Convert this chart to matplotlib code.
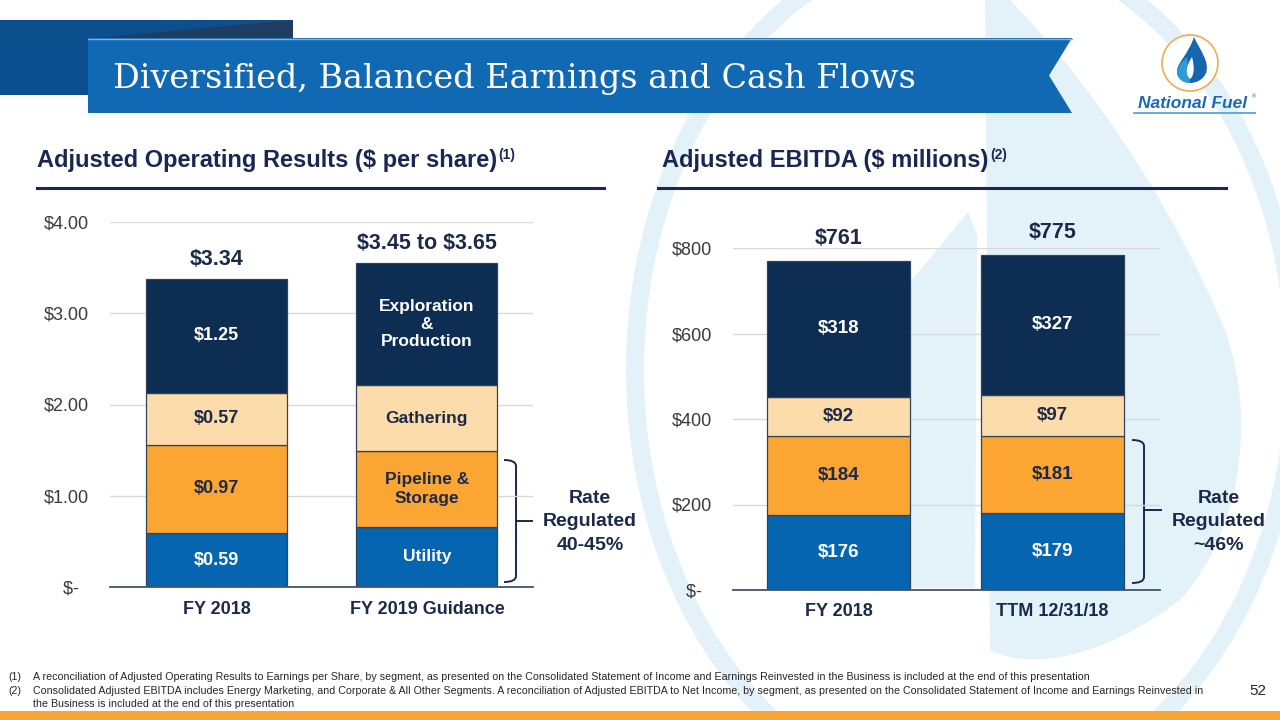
import matplotlib.pyplot as plt
import matplotlib.patches as mpatches
from matplotlib.path import Path

plt.rcParams['font.family'] = ['Liberation Sans', 'DejaVu Sans']
plt.rcParams['text.parse_math'] = False

# ---- data: adjusted operating results ($ per share)
eps_categories = ["FY 2018", "FY 2019 Guidance"]
eps_utility = [0.59, 0.66]
eps_pipeline = [0.97, 0.83]
eps_gathering = [0.57, 0.72]
eps_ep = [1.25, 1.34]
eps_totals = ["$3.34", "$3.45 to $3.65"]
eps_ticks = [0, 1, 2, 3, 4]
eps_ticklabels = ["$-  ", "$1.00", "$2.00", "$3.00", "$4.00"]
eps_fy18_labels = ["$0.59", "$0.97", "$0.57", "$1.25"]
eps_guid_labels = ["Utility", "Pipeline &\nStorage", "Gathering", "Exploration\n&\nProduction"]

# ---- data: adjusted EBITDA ($ millions)
ebitda_categories = ["FY 2018", "TTM 12/31/18"]
ebitda_utility = [176, 179]
ebitda_pipeline = [184, 181]
ebitda_gathering = [92, 97]
ebitda_ep = [318, 327]
ebitda_totals = ["$761", "$775"]
ebitda_ticks = [0, 200, 400, 600, 800]
ebitda_ticklabels = ["$-  ", "$200", "$400", "$600", "$800"]

# colours
C_EP = "#0e2d52"
C_GATH = "#fddcab"
C_PIPE = "#fba532"
C_UTIL = "#0565b0"
NAVY = "#1a2754"
DARK = "#1c2a4a"
WATER = "#e3f1f9"

fig = plt.figure(figsize=(12.8, 7.2), dpi=100)
fig.patch.set_facecolor("white")

# background layer in pixel coordinates
bg = fig.add_axes([0, 0, 1, 1])
bg.set_xlim(0, 1280)
bg.set_ylim(720, 0)
bg.axis("off")

# watermark: ring + drop
bg.add_patch(mpatches.Ellipse((965, 370), 660, 860, fill=False, ec=WATER, lw=13, zorder=0))
body = Path([(985, -10), (1000, -10),
             (1090, 80), (1170, 200), (1225, 330),
             (1260, 430), (1235, 540), (1180, 600),
             (1100, 660), (1030, 670), (990, 650),
             (985, -10)],
            [Path.MOVETO, Path.LINETO,
             Path.CURVE4, Path.CURVE4, Path.CURVE4,
             Path.CURVE4, Path.CURVE4, Path.CURVE4,
             Path.CURVE4, Path.CURVE4, Path.CURVE4,
             Path.LINETO])
bg.add_patch(mpatches.PathPatch(body, fc=WATER, ec="none", zorder=0))
bg.add_patch(mpatches.Polygon([(968, 212), (977, 235), (975, 588), (850, 588), (850, 355)],
                              closed=True, fc=WATER, ec="none", zorder=0))

# title banner
bg.add_patch(mpatches.Rectangle((0, 20), 293, 75, fc="#0c4f8e", ec="none", zorder=2))
bg.add_patch(mpatches.Polygon([(95, 38), (293, 20), (293, 38)], closed=True,
                              fc="#1f3d63", ec="none", zorder=2))
bg.add_patch(mpatches.Polygon([(88, 38), (1072, 38), (1049, 75.5), (1072, 113), (88, 113)],
                              closed=True, fc="#1169b3", ec="none", zorder=3))
bg.plot([88, 1072], [38.5, 38.5], color="#7fb2e0", lw=1, zorder=4)
bg.text(113, 88, "Diversified, Balanced Earnings and Cash Flows", family="DejaVu Serif",
        fontsize=24, color="white", va="baseline", ha="left", zorder=5)

# logo
bg.add_patch(mpatches.Circle((1190, 63), 28, fc="white", ec="#f2aa55", lw=1.2, zorder=3))
drop = Path([(1194, 37), (1200, 50), (1210, 62), (1206, 73),
             (1203, 80), (1196, 83), (1190, 83),
             (1183, 83), (1177, 78), (1177, 71),
             (1177, 63), (1188, 55), (1194, 37)],
            [Path.MOVETO] + [Path.CURVE4] * 12)
bg.add_patch(mpatches.PathPatch(drop, fc="#1565b0", ec="none", zorder=4))
bulge = Path([(1187, 57), (1180, 63), (1177, 68), (1177, 73),
              (1178, 80), (1184, 83), (1190, 83), (1190, 57)],
             [Path.MOVETO, Path.CURVE4, Path.CURVE4, Path.CURVE4,
              Path.CURVE4, Path.CURVE4, Path.CURVE4, Path.CLOSEPOLY])
bg.add_patch(mpatches.PathPatch(bulge, fc="#2e9ad6", ec="none", zorder=5))
flame = Path([(1192, 57), (1186, 66), (1185, 74), (1190, 79),
              (1194, 76), (1195, 68), (1192, 57)],
             [Path.MOVETO] + [Path.CURVE4] * 6)
bg.add_patch(mpatches.PathPatch(flame, fc="white", ec="none", zorder=6))
bg.text(1193, 103, "National Fuel", fontsize=12.5, fontweight="bold", style="italic",
        color="#1d6ab4", ha="center", va="center", zorder=5)
bg.text(1254, 97, "®", fontsize=4, color="#1d6ab4", ha="center", va="center", zorder=5)
bg.plot([1134, 1255], [113, 113], color="#56a5dc", lw=1.3, zorder=5)

# section headers
h1 = bg.text(37, 161, "Adjusted Operating Results ($ per share)", fontsize=17,
             fontweight="bold", color=NAVY, va="center", ha="left", zorder=5)
bg.annotate("(1)", xy=(1.0, 1.0), xycoords=h1, xytext=(1, 1), textcoords="offset points",
            fontsize=10, fontweight="bold", color=NAVY, va="top", ha="left", zorder=5)
bg.plot([37, 604], [188, 188], color=NAVY, lw=2.2, zorder=5)
h2 = bg.text(662, 161, "Adjusted EBITDA ($ millions)", fontsize=17,
             fontweight="bold", color=NAVY, va="center", ha="left", zorder=5)
bg.annotate("(2)", xy=(1.0, 1.0), xycoords=h2, xytext=(1, 1), textcoords="offset points",
            fontsize=10, fontweight="bold", color=NAVY, va="top", ha="left", zorder=5)
bg.plot([658, 1226], [188, 188], color=NAVY, lw=2.2, zorder=5)


def stacked(ax, util, pipe, gath, ep, width):
    x = range(len(util))
    bottoms = [0] * len(util)
    segs = []
    for vals, col in [(util, C_UTIL), (pipe, C_PIPE), (gath, C_GATH), (ep, C_EP)]:
        ax.bar(x, vals, width, bottom=bottoms, color=col, edgecolor="#34435c",
               linewidth=0.9, zorder=3)
        segs.append([b + v / 2 for b, v in zip(bottoms, vals)])
        bottoms = [b + v for b, v in zip(bottoms, vals)]
    return segs, bottoms


def style(ax, ticks, ticklabels, cats, xpad):
    ax.set_facecolor("none")
    ax.set_yticks(ticks, ticklabels)
    ax.set_xticks([0, 1], cats)
    ax.yaxis.grid(True, color="#d9d9d9", lw=1)
    ax.set_axisbelow(True)
    for s in ["left", "right", "top"]:
        ax.spines[s].set_visible(False)
    ax.spines["bottom"].set_color("#44546a")
    ax.spines["bottom"].set_linewidth(1.3)
    ax.spines["bottom"].set_zorder(4)
    ax.tick_params(axis="y", length=0, pad=15, labelsize=13, labelcolor="#3a3a3a")
    ax.tick_params(axis="x", length=0, pad=xpad, labelsize=13, labelcolor=DARK)
    for lbl in ax.get_xticklabels():
        lbl.set_fontweight("bold")


seg_colors = ["white", DARK, DARK, "white"]

# ---- left chart
ax1 = fig.add_axes([110 / 1280, (720 - 587) / 720, 423 / 1280, 365 / 720])
ax1.set_xlim(-0.506, 1.504)
ax1.set_ylim(0, 4)
segs1, tops1 = stacked(ax1, eps_utility, eps_pipeline, eps_gathering, eps_ep, 0.67)
style(ax1, eps_ticks, eps_ticklabels, eps_categories, 10)
for i in range(4):
    ax1.text(0, segs1[i][0], eps_fy18_labels[i], ha="center", va="center", fontsize=13,
             fontweight="bold", color=seg_colors[i], zorder=5)
    ax1.text(1, segs1[i][1], eps_guid_labels[i], ha="center", va="center", fontsize=12.5,
             fontweight="bold", color=seg_colors[i], linespacing=1.2 if i == 3 else 1.35,
             zorder=5)
for i in range(2):
    ax1.annotate(eps_totals[i], xy=(i, tops1[i]), xytext=(0, 14), textcoords="offset points",
                 ha="center", va="center", fontsize=15.5, fontweight="bold", color=DARK,
                 annotation_clip=False, zorder=5)

# ---- right chart
ax2 = fig.add_axes([733 / 1280, (720 - 590) / 720, 427 / 1280, 342 / 720])
ax2.set_xlim(-0.493, 1.502)
ax2.set_ylim(0, 800)
segs2, tops2 = stacked(ax2, ebitda_utility, ebitda_pipeline, ebitda_gathering, ebitda_ep, 0.668)
style(ax2, ebitda_ticks, ebitda_ticklabels, ebitda_categories, 9.5)
ebitda_series = [ebitda_utility, ebitda_pipeline, ebitda_gathering, ebitda_ep]
for i in range(4):
    for j in range(2):
        ax2.text(j, segs2[i][j], "$%d" % ebitda_series[i][j], ha="center", va="center",
                 fontsize=13.5, fontweight="bold", color=seg_colors[i], zorder=5)
for i in range(2):
    ax2.annotate(ebitda_totals[i], xy=(i, tops2[i]), xytext=(0, 16), textcoords="offset points",
                 ha="center", va="center", fontsize=15.5, fontweight="bold", color=DARK,
                 annotation_clip=False, zorder=5)


# brackets for rate regulated share
def bracket(xh, xl, xt, yt, ym, yb, r=6):
    p = Path([(xh, yt), (xl, yt), (xl, yt + r), (xl, yb - r), (xl, yb), (xh, yb)],
             [Path.MOVETO, Path.CURVE3, Path.CURVE3, Path.LINETO, Path.CURVE3, Path.CURVE3])
    bg.add_patch(mpatches.PathPatch(p, fc="none", ec=NAVY, lw=1.4, zorder=6))
    bg.plot([xl, xt], [ym, ym], color=NAVY, lw=1.4, zorder=6)


bracket(504, 516, 532, 460, 521, 582)
bracket(1132, 1144, 1161, 440, 510, 583)
bg.text(590, 522, "Rate\nRegulated\n40-45%", fontsize=14, fontweight="bold", color=DARK,
        ha="center", va="center", linespacing=1.5, zorder=6)
bg.text(1219, 522, "Rate\nRegulated\n~46%", fontsize=14, fontweight="bold", color=DARK,
        ha="center", va="center", linespacing=1.5, zorder=6)

# footnotes
notes = [
    ("(1)", "A reconciliation of Adjusted Operating Results to Earnings per Share, by segment, as presented on the "
            "Consolidated Statement of Income and Earnings Reinvested in the Business is included at the end of this presentation"),
    ("(2)", "Consolidated Adjusted EBITDA includes Energy Marketing, and Corporate & All Other Segments. A reconciliation "
            "of Adjusted EBITDA to Net Income, by segment, as presented on the Consolidated Statement of Income and Earnings Reinvested in"),
    ("", "the Business is included at the end of this presentation"),
]
for k, (num, txt) in enumerate(notes):
    y = 677 + k * 13.5
    if num:
        bg.text(8, y, num, fontsize=7.7, color="#262626", va="center", ha="left", zorder=6)
    bg.text(33, y, txt, fontsize=7.7, color="#262626", va="center", ha="left", zorder=6)
bg.text(1258, 691, "52", fontsize=11, color="#262626", va="center", ha="center", zorder=6)

# bottom strip
bg.add_patch(mpatches.Rectangle((0, 711), 1280, 9, fc="#f9a532", ec="none", zorder=6))

fig.savefig("out.png", dpi=100)
